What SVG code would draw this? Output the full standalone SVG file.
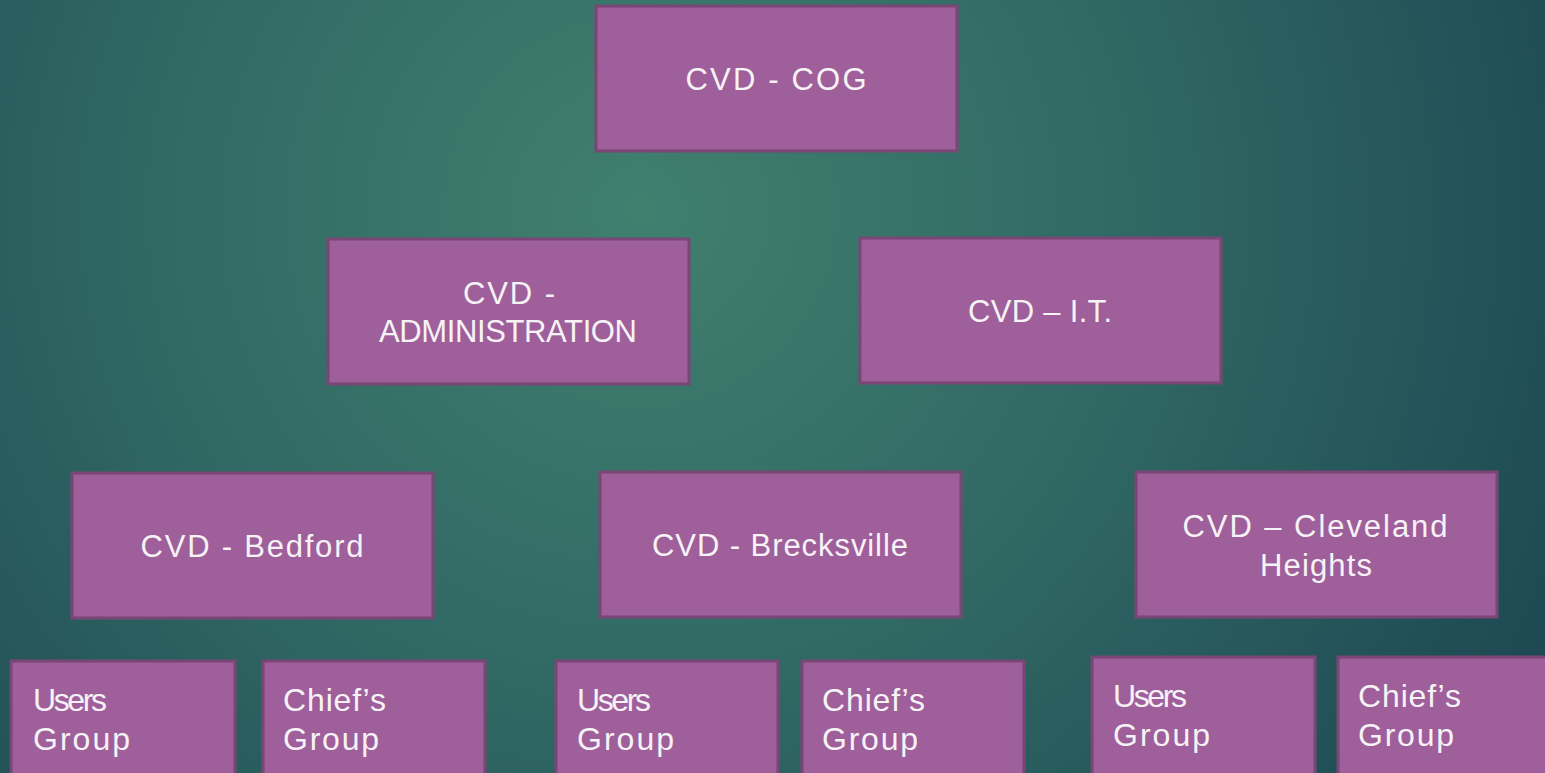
<svg xmlns="http://www.w3.org/2000/svg" width="1545" height="773" viewBox="0 0 1545 773">
<defs>
<radialGradient id="bg" gradientUnits="userSpaceOnUse" cx="640" cy="210" r="1050">
<stop offset="0" stop-color="#40806f"/>
<stop offset="0.45" stop-color="#316964"/>
<stop offset="1" stop-color="#1c4652"/>
</radialGradient>
<style>
.box{fill:#9e5f9a;stroke:#7a4676;stroke-width:3}
.t{fill:#f6f2f6;font-family:"Liberation Sans","DejaVu Sans",sans-serif;font-size:31px}
.c{text-anchor:middle}
.s{font-size:32px}
</style>
</defs>
<rect x="0" y="0" width="1545" height="773" fill="url(#bg)"/>
<g id="connectors"></g>
<g id="cog">
<rect class="box" x="596" y="6" width="361" height="145"/>
<text class="t c" x="776" y="90" textLength="181" lengthAdjust="spacing">CVD - COG</text>
</g>
<g id="admin">
<rect class="box" x="328" y="239" width="361" height="145"/>
<text class="t c" x="509" y="304" textLength="92" lengthAdjust="spacing">CVD -</text>
<text class="t c" x="508" y="342" textLength="258" lengthAdjust="spacing">ADMINISTRATION</text>
</g>
<g id="it">
<rect class="box" x="860" y="238" width="361" height="145"/>
<text class="t c" x="1040" y="322" textLength="144" lengthAdjust="spacing">CVD – I.T.</text>
</g>
<g id="bedford">
<rect class="box" x="72" y="473" width="361" height="145"/>
<text class="t c" x="252" y="557" textLength="223" lengthAdjust="spacing">CVD - Bedford</text>
</g>
<g id="brecksville">
<rect class="box" x="600" y="472" width="361" height="145"/>
<text class="t c" x="780" y="556" textLength="256" lengthAdjust="spacing">CVD - Brecksville</text>
</g>
<g id="cleveland">
<rect class="box" x="1136" y="472" width="361" height="145"/>
<text class="t c" x="1315" y="537" textLength="265" lengthAdjust="spacing">CVD – Cleveland</text>
<text class="t c" x="1316" y="576" textLength="112" lengthAdjust="spacing">Heights</text>
</g>
<g id="users1">
<rect class="box" x="11" y="661" width="224" height="120"/>
<text class="t s" x="33" y="711" textLength="74" lengthAdjust="spacing">Users</text>
<text class="t s" x="33" y="750" textLength="97" lengthAdjust="spacing">Group</text>
</g>
<g id="chiefs1">
<rect class="box" x="263" y="661" width="222" height="120"/>
<text class="t s" x="283" y="711" textLength="103" lengthAdjust="spacing">Chief’s</text>
<text class="t s" x="283" y="750" textLength="96" lengthAdjust="spacing">Group</text>
</g>
<g id="users2">
<rect class="box" x="556" y="661" width="222" height="120"/>
<text class="t s" x="577" y="711" textLength="74" lengthAdjust="spacing">Users</text>
<text class="t s" x="577" y="750" textLength="97" lengthAdjust="spacing">Group</text>
</g>
<g id="chiefs2">
<rect class="box" x="802" y="661" width="222" height="120"/>
<text class="t s" x="822" y="711" textLength="103" lengthAdjust="spacing">Chief’s</text>
<text class="t s" x="822" y="750" textLength="96" lengthAdjust="spacing">Group</text>
</g>
<g id="users3">
<rect class="box" x="1092" y="657" width="223" height="120"/>
<text class="t s" x="1113" y="707" textLength="74" lengthAdjust="spacing">Users</text>
<text class="t s" x="1113" y="746" textLength="97" lengthAdjust="spacing">Group</text>
</g>
<g id="chiefs3">
<rect class="box" x="1338" y="657" width="222" height="120"/>
<text class="t s" x="1358" y="707" textLength="103" lengthAdjust="spacing">Chief’s</text>
<text class="t s" x="1358" y="746" textLength="96" lengthAdjust="spacing">Group</text>
</g>
</svg>
